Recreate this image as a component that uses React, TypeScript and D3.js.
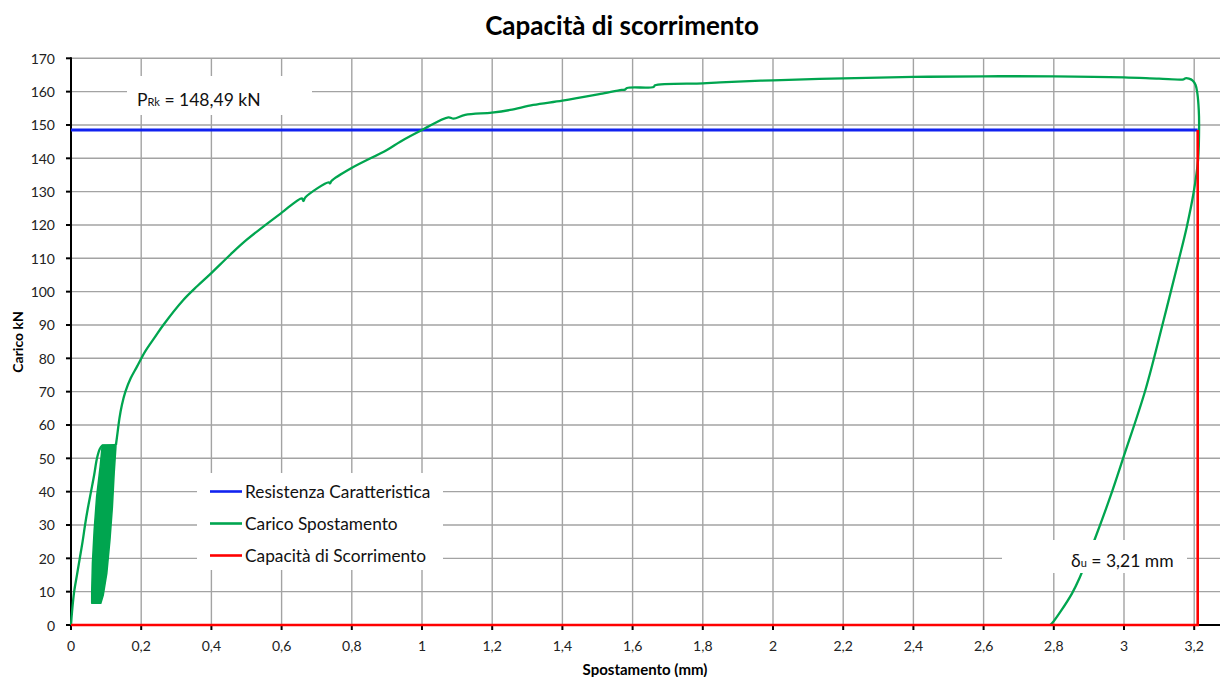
import React from 'react';
import * as d3 from 'd3';

const W = 1220;
const H = 677;

// Axis ticks
const xTickValues = [0, 0.2, 0.4, 0.6, 0.8, 1, 1.2, 1.4, 1.6, 1.8, 2, 2.2, 2.4, 2.6, 2.8, 3, 3.2];
const yTickValues = [0, 10, 20, 30, 40, 50, 60, 70, 80, 90, 100, 110, 120, 130, 140, 150, 160, 170];

// Characteristic resistance (kN) and slip capacity (mm)
const resistenzaKN = 148.49;
const capacitaMM = 3.21;

// First loading branch up to the start of the load cycles [mm, kN]
const initialLoading: [number, number][] = [
  [0, 0], [0.003, 4], [0.009, 10], [0.017, 15], [0.025, 20], [0.033, 25], [0.04, 30],
  [0.048, 35], [0.057, 40], [0.066, 45], [0.074, 50], [0.082, 52.8], [0.088, 53.7],
  [0.1, 53.8], [0.128, 54],
];

// Outline of the repeated unload/reload cycles between ~7 and ~54 kN
const cyclicBand: [number, number][] = [
  [0.059, 6.5], [0.059, 10], [0.061, 18.5], [0.066, 28.5], [0.073, 38.5], [0.083, 47.5],
  [0.089, 54], [0.128, 54], [0.128, 53.5], [0.123, 45.5], [0.118, 35.5], [0.111, 25.5],
  [0.102, 15.5], [0.092, 9], [0.085, 6.5],
];

// Envelope after the cycles, to failure and unloading [mm, kN]
const mainLoading: [number, number][] = [
  [0.128, 54], [0.133, 58], [0.138, 62], [0.145, 66], [0.155, 70], [0.17, 74], [0.188, 77.5],
  [0.211, 82], [0.24, 86.5], [0.263, 90], [0.32, 97.5], [0.36, 101.7], [0.399, 105.5],
  [0.453, 111], [0.5, 115.5], [0.598, 123.5], [0.658, 128], [0.662, 127.2], [0.668, 128.3],
  [0.734, 132.8], [0.738, 132.5], [0.742, 133.2], [0.798, 137], [0.9, 142.5], [0.938, 145],
  [1.0, 148.5], [1.075, 152.3], [1.09, 151.9], [1.123, 153], [1.199, 153.7], [1.251, 154.5],
  [1.317, 156], [1.4, 157.3], [1.508, 159.3], [1.569, 160.5], [1.578, 160.6], [1.584, 161.1],
  [1.66, 161.4], [1.664, 161.9], [1.8, 162.5], [1.85, 162.8], [2.0, 163.4], [2.2, 164],
  [2.4, 164.4], [2.6, 164.6], [2.8, 164.6], [3.0, 164.3], [3.1, 163.9], [3.17, 163.7],
  [3.175, 164], [3.185, 163.9], [3.195, 163.4], [3.204, 162], [3.209, 159.5], [3.213, 154.5],
  [3.214, 149.5], [3.211, 139.5], [3.198, 129.5], [3.179, 119.5], [3.156, 109.5],
  [3.113, 91.5], [3.061, 70.5], [2.999, 50.5], [2.961, 38.5], [2.918, 26.1], [2.873, 14],
  [2.852, 9.5], [2.819, 4], [2.795, 0.5], [2.79, 0],
];

const legendItems = [
  { label: 'Resistenza Caratteristica', color: '#1122f0' },
  { label: 'Carico Spostamento', color: '#00a54f' },
  { label: 'Capacità di Scorrimento', color: '#ff0000' },
];

const FONT = 'Lato, "Open Sans", sans-serif';

export default function App() {
  const x = d3.scaleLinear().domain([0, 3.3]).range([71, 71 + 3.3 * 351]);
  const y = d3.scaleLinear().domain([0, 170]).range([625, 58.3]);

  const line = d3
    .line<[number, number]>()
    .x((d) => x(d[0]))
    .y((d) => y(d[1]))
    .curve(d3.curveCatmullRom.alpha(0.5));
  const straight = d3
    .line<[number, number]>()
    .x((d) => x(d[0]))
    .y((d) => y(d[1]));

  const fmt = (v: number) => String(v).replace('.', ',');
  const green = legendItems[1].color;
  const blue = legendItems[0].color;
  const red = legendItems[2].color;

  const y0 = y(0);
  const yTop = y(170);

  return (
    <svg
      width={W}
      height={H}
      style={{ position: 'absolute', left: 0, top: 0, background: '#fff' }}
      fontFamily={FONT}
    >
      <rect x={0} y={0} width={W} height={H} fill="#fff" />
      <text x={622} y={35} textAnchor="middle" fontSize={26} fontWeight="bold" fill="#000">
        Capacità di scorrimento
      </text>

      {/* grid */}
      <g stroke="#a3a3a3" strokeWidth={1.4}>
        {xTickValues.filter((v) => v > 0).map((v) => (
          <line key={'gx' + v} x1={x(v)} x2={x(v)} y1={yTop} y2={y0} />
        ))}
        {yTickValues.filter((v) => v > 0).map((v) => (
          <line key={'gy' + v} x1={x(0)} x2={W} y1={y(v)} y2={y(v)} />
        ))}
      </g>

      {/* axes */}
      <g stroke="#000" strokeWidth={2}>
        <line x1={x(0)} x2={x(0)} y1={yTop - 1} y2={y0} />
        <line x1={x(0)} x2={W} y1={y0} y2={y0} />
        {yTickValues.map((v) => (
          <line key={'ty' + v} x1={x(0) - 5} x2={x(0)} y1={y(v)} y2={y(v)} />
        ))}
        {xTickValues.map((v) => (
          <line key={'tx' + v} x1={x(v)} x2={x(v)} y1={y0} y2={y0 + 5} />
        ))}
      </g>
      <g fontSize={14} fill="#222">
        {yTickValues.map((v) => (
          <text key={'ly' + v} x={55} y={y(v)} textAnchor="end" dominantBaseline="central">
            {v}
          </text>
        ))}
        {xTickValues.map((v) => (
          <text key={'lx' + v} x={x(v)} y={651} textAnchor="middle">
            {fmt(v)}
          </text>
        ))}
      </g>
      <text x={645} y={675} textAnchor="middle" fontSize={15} fontWeight="bold">
        Spostamento (mm)
      </text>
      <text
        transform="translate(23,342) rotate(-90)"
        textAnchor="middle"
        fontSize={14}
        fontWeight="bold"
      >
        Carico kN
      </text>

      {/* characteristic resistance */}
      <path
        d={straight([[0, resistenzaKN], [capacitaMM, resistenzaKN]]) || ''}
        stroke={blue}
        strokeWidth={2.8}
        fill="none"
      />

      {/* load-slip curve */}
      <path d={line(initialLoading) || ''} stroke={green} strokeWidth={2.3} fill="none" />
      <path
        d={(straight(cyclicBand) || '') + 'Z'}
        fill={green}
        stroke={green}
        strokeWidth={1.5}
        strokeLinejoin="round"
      />
      <path d={line(mainLoading) || ''} stroke={green} strokeWidth={2.3} fill="none" />

      {/* slip capacity */}
      <path
        d={straight([[0, 0], [capacitaMM, 0], [capacitaMM, resistenzaKN]]) || ''}
        stroke={red}
        strokeWidth={2.6}
        fill="none"
      />

      {/* value labels */}
      <rect x={127} y={76} width={185} height={39} fill="#fff" />
      <text x={137} y={106} fontSize={17.5} fill="#111">
        P<tspan fontSize={11}>Rk</tspan>
        <tspan> = {fmt(resistenzaKN)} kN</tspan>
      </text>
      <rect x={1002} y={540} width={185} height={33} fill="#fff" />
      <text x={1071} y={567} fontSize={17.5} fill="#111">
        δ<tspan fontSize={11}>u</tspan>
        <tspan> = {fmt(capacitaMM)} mm</tspan>
      </text>

      {/* legend */}
      <rect x={197} y={473} width={246} height={97} fill="#fff" />
      {legendItems.map((it, i) => {
        const cy = 491.5 + i * 32;
        return (
          <g key={it.label}>
            <line x1={210} x2={242} y1={cy} y2={cy} stroke={it.color} strokeWidth={2.6} />
            <text x={245} y={cy} fontSize={17.3} dominantBaseline="central" fill="#111">
              {it.label}
            </text>
          </g>
        );
      })}
    </svg>
  );
}
